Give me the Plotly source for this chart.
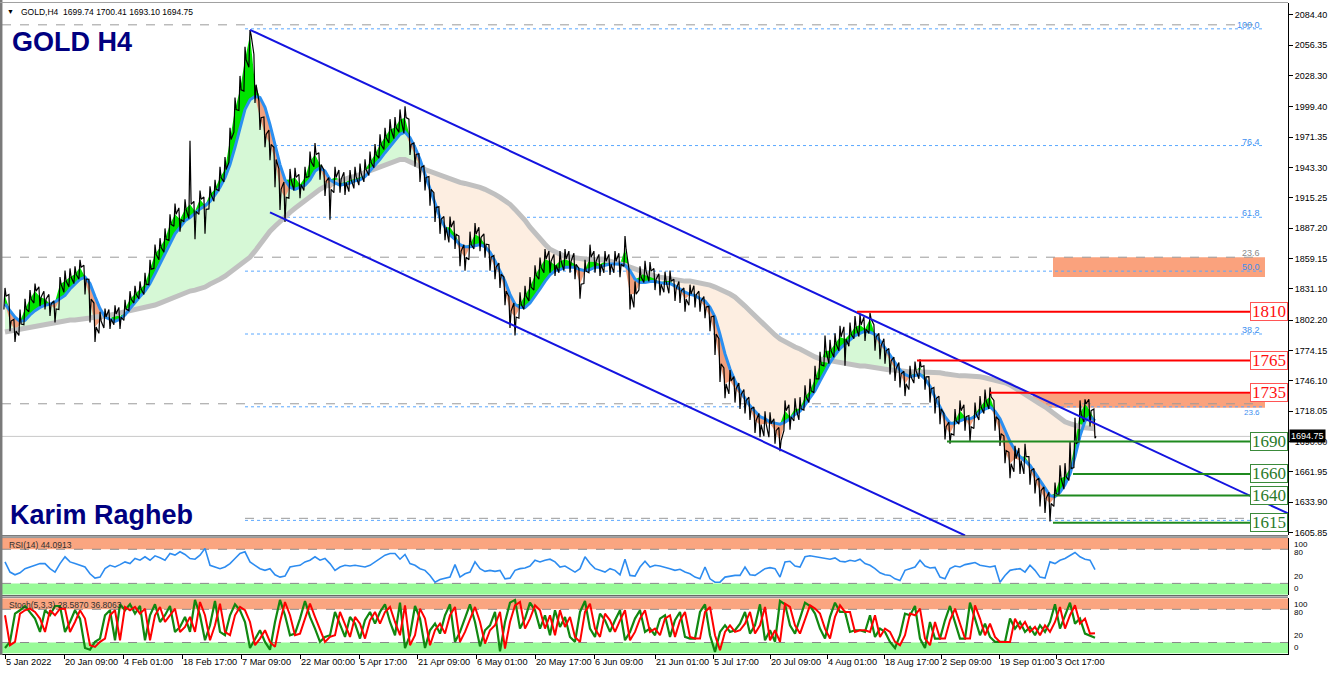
import numpy as np
import plotly.graph_objects as go

W, H = 1332, 677
FONT = "Liberation Sans, Arial, sans-serif"

# ---------------- data (sampled H4 series, one sample per ~6 bars) ----------------
close = [
    1824.5, 1801.4, 1792.2, 1798.6, 1812.5, 1821.7, 1829.1, 1823.5, 1821.7, 1817.1,
    1812.5, 1835.5, 1838.3, 1842.0, 1844.7, 1851.2, 1840.1, 1821.7, 1795.9, 1801.4,
    1805.1, 1803.3, 1807.9, 1805.1, 1812.5, 1821.7, 1826.3, 1830.9, 1835.5, 1849.3,
    1863.2, 1869.6, 1877.0, 1890.8, 1900.0, 1895.4, 1904.6, 1909.3, 1902.8, 1913.9,
    1904.6, 1918.5, 1923.1, 1934.1, 1941.5, 1969.2, 1996.8, 2015.2, 2042.9, 2065.9,
    2019.9, 1989.4, 1973.8, 1964.6, 1950.7, 1923.1, 1915.7, 1932.3, 1934.1, 1927.7,
    1934.1, 1948.9, 1955.3, 1946.1, 1930.5, 1923.1, 1934.1, 1932.3, 1929.5, 1932.3,
    1935.1, 1937.8, 1941.5, 1948.0, 1955.3, 1964.6, 1971.0, 1978.4, 1980.2, 1987.6,
    1989.4, 1964.6, 1955.3, 1943.4, 1934.1, 1923.1, 1906.5, 1895.4, 1888.1, 1888.1,
    1881.6, 1865.9, 1860.4, 1872.4, 1881.6, 1878.8, 1872.4, 1860.4, 1851.2, 1844.7,
    1829.1, 1810.6, 1805.1, 1817.1, 1824.5, 1832.8, 1843.8, 1851.2, 1858.6, 1856.7,
    1853.0, 1856.7, 1858.6, 1856.7, 1853.9, 1835.5, 1847.5, 1860.4, 1856.7, 1853.9,
    1856.7, 1853.9, 1856.7, 1853.9, 1867.8, 1826.3, 1826.3, 1842.0, 1847.5, 1847.5,
    1840.1, 1835.5, 1838.3, 1838.3, 1830.9, 1829.1, 1821.7, 1826.3, 1825.4, 1819.9,
    1814.3, 1805.1, 1789.4, 1761.8, 1743.3, 1746.1, 1738.7, 1733.2, 1727.7, 1720.3,
    1709.2, 1705.6, 1706.5, 1706.5, 1700.0, 1690.8, 1718.5, 1712.9, 1720.3, 1720.3,
    1731.4, 1736.9, 1748.0, 1760.9, 1773.8, 1773.8, 1780.2, 1786.7, 1784.8, 1789.4,
    1795.9, 1797.7, 1794.0, 1803.3, 1786.7, 1778.4, 1773.8, 1764.5, 1757.2, 1752.6,
    1743.3, 1749.8, 1755.3, 1759.0, 1749.8, 1738.7, 1729.5, 1720.3, 1703.7, 1697.3,
    1709.2, 1718.5, 1712.9, 1703.7, 1715.7, 1722.1, 1727.7, 1731.4, 1712.9, 1697.3,
    1681.6, 1669.6, 1674.2, 1672.4, 1676.1, 1663.2, 1653.9, 1644.7, 1637.3, 1632.7,
    1642.0, 1655.8, 1657.6, 1665.0, 1688.0, 1715.7, 1724.9, 1718.5, 1694.75,
]

high = [
    1832, 1826, 1803, 1812, 1822, 1830, 1836, 1833, 1829, 1826,
    1820, 1842, 1848, 1850, 1852, 1858, 1853, 1840, 1818, 1810,
    1813, 1812, 1816, 1814, 1821, 1829, 1834, 1838, 1846, 1858,
    1872, 1878, 1887, 1900, 1910, 1906, 1914, 1968, 1912, 1922,
    1916, 1926, 1932, 1944, 1953, 1980, 2008, 2028, 2055, 2070.4,
    2048, 2005, 1990, 1978, 1962, 1942, 1930, 1942, 1943, 1937,
    1944, 1958, 1966, 1957, 1941, 1934, 1944, 1941, 1939, 1941,
    1944, 1947, 1951, 1958, 1965, 1974, 1980, 1988, 1990, 1997,
    2000, 1988, 1966, 1956, 1945, 1935, 1920, 1907, 1898, 1898,
    1894, 1880, 1872, 1884, 1892, 1888, 1882, 1872, 1862, 1855,
    1842, 1824, 1818, 1828, 1834, 1842, 1853, 1860, 1868, 1866,
    1863, 1866, 1868, 1866, 1864, 1850, 1858, 1872, 1866, 1863,
    1866, 1863, 1866, 1864, 1880, 1850, 1838, 1852, 1857, 1856,
    1850, 1845, 1847, 1848, 1840, 1838, 1832, 1835, 1834, 1829,
    1824, 1815, 1806, 1785, 1758, 1756, 1750, 1744, 1738, 1731,
    1722, 1716, 1718, 1717, 1711, 1703, 1728, 1724, 1730, 1731,
    1742, 1748, 1760, 1773, 1788, 1784, 1790, 1797, 1796, 1800,
    1806, 1808, 1805, 1809, 1798, 1790, 1785, 1776, 1768, 1763,
    1755, 1760, 1764, 1766, 1760, 1750, 1740, 1732, 1716, 1708,
    1720, 1728, 1724, 1714, 1726, 1732, 1738, 1740, 1728, 1710,
    1695, 1680, 1686, 1684, 1688, 1676, 1665, 1656, 1648, 1643,
    1652, 1668, 1670, 1690, 1712, 1728, 1729, 1729, 1720,
]

low = [
    1812, 1792, 1782, 1788, 1798, 1810, 1818, 1815, 1812, 1806,
    1800, 1812, 1828, 1833, 1836, 1840, 1826, 1800, 1782, 1790,
    1795, 1794, 1798, 1794, 1802, 1811, 1818, 1822, 1826, 1835,
    1850, 1858, 1865, 1876, 1889, 1884, 1893, 1896, 1877, 1900,
    1882, 1905, 1912, 1922, 1930, 1948, 1976, 1996, 2014, 2036,
    2003, 1978, 1962, 1950, 1925, 1904, 1893, 1915, 1922, 1915,
    1922, 1935, 1944, 1932, 1917, 1895, 1920, 1920, 1918, 1921,
    1924, 1927, 1930, 1936, 1943, 1952, 1960, 1966, 1970, 1976,
    1975, 1955, 1944, 1930, 1922, 1908, 1893, 1882, 1876, 1874,
    1868, 1852, 1848, 1858, 1868, 1866, 1860, 1848, 1840, 1832,
    1816, 1795, 1788, 1804, 1812, 1820, 1830, 1840, 1846, 1846,
    1843, 1846, 1848, 1846, 1840, 1822, 1836, 1846, 1846, 1843,
    1846, 1844, 1846, 1842, 1852, 1812, 1814, 1830, 1837, 1838,
    1830, 1825, 1828, 1827, 1820, 1818, 1810, 1816, 1814, 1810,
    1804, 1792, 1770, 1745, 1730, 1734, 1726, 1720, 1716, 1710,
    1698, 1694, 1695, 1694, 1688, 1681, 1700, 1701, 1709, 1710,
    1719, 1726, 1735, 1748, 1760, 1762, 1768, 1774, 1760, 1778,
    1785, 1787, 1783, 1790, 1774, 1766, 1762, 1752, 1746, 1740,
    1732, 1738, 1744, 1748, 1738, 1726, 1716, 1706, 1692, 1688,
    1696, 1706, 1700, 1690, 1702, 1710, 1716, 1720, 1700, 1686,
    1670, 1656, 1662, 1660, 1660, 1650, 1642, 1630, 1624, 1616,
    1630, 1640, 1646, 1654, 1666, 1690, 1708, 1704, 1693.1,
]

ema_fast = [
    1817, 1811, 1805, 1801, 1802, 1807, 1811, 1814, 1816, 1817,
    1819, 1822, 1825, 1831, 1836, 1840, 1842, 1836, 1824, 1813,
    1805, 1803, 1801, 1803, 1807, 1813, 1819, 1824, 1829, 1836,
    1845, 1854, 1863, 1872, 1882, 1888, 1894, 1897, 1901, 1905,
    1908, 1912, 1918, 1925, 1934, 1946, 1962, 1980, 1997, 2006,
    2009, 2008, 1999, 1983, 1965, 1946, 1932, 1925, 1923, 1925,
    1927, 1932, 1940, 1943, 1940, 1932, 1929, 1927, 1928, 1929,
    1931, 1932, 1935, 1940, 1945, 1951, 1957, 1963, 1969, 1974,
    1976, 1971, 1962, 1951, 1937, 1923, 1909, 1897, 1888, 1881,
    1877, 1872, 1870, 1870, 1871, 1872, 1870, 1865, 1857, 1848,
    1838, 1826, 1817, 1814, 1814, 1818, 1824, 1831, 1838, 1844,
    1848, 1849, 1851, 1851, 1851, 1849, 1848, 1849, 1851, 1851,
    1853, 1854, 1854, 1854, 1853, 1848, 1840, 1837, 1837, 1838,
    1838, 1837, 1836, 1836, 1834, 1831, 1828, 1826, 1825, 1822,
    1820, 1814, 1805, 1789, 1771, 1757, 1746, 1737, 1730, 1723,
    1718, 1713, 1711, 1708, 1707, 1706, 1708, 1711, 1715, 1718,
    1724, 1730, 1737, 1746, 1755, 1763, 1770, 1776, 1780, 1784,
    1788, 1790, 1792, 1791, 1789, 1783, 1777, 1770, 1763, 1756,
    1752, 1750, 1751, 1752, 1748, 1741, 1731, 1722, 1713, 1707,
    1707, 1709, 1711, 1711, 1713, 1717, 1720, 1722, 1718, 1711,
    1700, 1690, 1682, 1676, 1672, 1668, 1661, 1654, 1647, 1640,
    1639, 1643, 1650, 1660, 1676, 1695, 1709, 1713, 1709,
]

sma_slow = [
    1791.3, 1792.2, 1793.1, 1794.0, 1795.0, 1795.9, 1796.8, 1797.7, 1798.6, 1798.6,
    1799.6, 1800.5, 1801.4, 1802.3, 1802.3, 1803.3, 1803.3, 1804.2, 1805.1, 1805.1,
    1806.0, 1806.9, 1807.9, 1808.8, 1809.7, 1810.6, 1811.5, 1812.5, 1813.4, 1814.3,
    1816.2, 1818.0, 1819.9, 1821.7, 1823.5, 1825.4, 1827.2, 1829.1, 1830.0, 1830.9,
    1832.8, 1835.5, 1837.4, 1840.1, 1842.9, 1846.6, 1850.3, 1853.9, 1856.7, 1860.4,
    1866.0, 1872.4, 1878.8, 1884.4, 1889.0, 1893.6, 1898.2, 1901.9, 1905.6, 1909.3,
    1912.9, 1916.6, 1920.3, 1923.1, 1925.8, 1927.7, 1929.5, 1930.5, 1932.3, 1934.1,
    1935.1, 1936.9, 1937.8, 1939.7, 1941.5, 1943.4, 1945.2, 1947.0, 1948.9, 1950.7,
    1950.7, 1948.9, 1947.0, 1944.3, 1941.5, 1939.7, 1937.8, 1936.9, 1934.1, 1932.3,
    1931.4, 1929.5, 1928.6, 1927.7, 1926.8, 1924.9, 1923.1, 1921.2, 1918.5, 1915.7,
    1912.9, 1909.3, 1904.6, 1900.0, 1894.5, 1888.1, 1882.5, 1877.0, 1872.4, 1867.8,
    1865.0, 1863.2, 1861.3, 1860.4, 1859.5, 1858.6, 1858.6, 1858.6, 1858.6, 1858.6,
    1857.7, 1856.7, 1855.8, 1854.9, 1853.0, 1851.2, 1849.3, 1847.5, 1845.7, 1844.7,
    1842.9, 1842.0, 1841.1, 1840.1, 1839.2, 1839.2, 1838.3, 1838.3, 1837.4, 1837.4,
    1836.4, 1834.6, 1832.8, 1830.9, 1829.1, 1826.3, 1823.5, 1819.9, 1815.2, 1810.6,
    1806.0, 1801.4, 1796.8, 1792.2, 1788.5, 1784.8, 1782.0, 1779.3, 1777.4, 1775.6,
    1772.8, 1770.1, 1768.2, 1766.4, 1765.5, 1764.5, 1763.6, 1762.7, 1762.7, 1761.8,
    1760.9, 1759.9, 1759.9, 1759.0, 1758.1, 1757.2, 1757.2, 1756.2, 1756.2, 1755.3,
    1755.3, 1754.4, 1754.4, 1754.4, 1754.4, 1753.5, 1753.5, 1753.5, 1752.6, 1751.6,
    1751.6, 1750.7, 1750.7, 1750.7, 1749.8, 1749.8, 1748.9, 1748.0, 1747.0, 1746.1,
    1744.3, 1742.4, 1739.7, 1736.9, 1734.1, 1731.4, 1728.6, 1724.9, 1722.1, 1718.5,
    1714.8, 1711.1, 1708.3, 1706.5, 1704.6, 1703.7, 1702.8, 1701.9, 1701.9,
]

rsi = [
    57.8, 39.9, 35.1, 38.7, 45.9, 48.8, 51.8, 54.8, 54.8, 45.9,
    39.9, 54.8, 66.7, 57.8, 54.8, 51.8, 48.8, 36.9, 29.2, 31.0,
    45.9, 51.8, 48.8, 53.0, 57.8, 54.8, 63.7, 60.7, 66.7, 60.7,
    68.5, 64.9, 60.7, 72.6, 69.7, 75.6, 70.9, 63.7, 62.5, 69.7,
    81.6, 51.8, 48.8, 45.9, 48.8, 54.8, 63.7, 72.6, 75.6, 57.8,
    51.8, 45.9, 42.9, 45.9, 35.1, 31.0, 32.8, 48.8, 50.6, 51.8,
    57.8, 60.7, 66.7, 60.7, 63.7, 54.8, 42.9, 48.8, 51.8, 50.6,
    51.8, 50.6, 48.8, 51.8,
    57.8, 63.7, 69.7, 72.6, 72.6, 62.5, 70.9, 54.8, 51.8, 45.9,
    42.9, 34.0, 22.1, 26.8, 29.2, 31.0, 53.0, 31.0, 36.9, 39.9,
    57.8, 45.9, 41.1, 42.9, 41.1, 42.9, 28.0, 29.2, 42.9, 45.9,
    47.0, 50.6, 60.7, 57.8, 60.7, 62.5, 57.8, 48.8, 50.6, 45.9,
    39.9, 45.9, 66.7, 54.8, 45.9, 42.9, 39.9, 45.9, 42.9, 35.1,
    62.5, 34.0, 32.8, 48.8, 58.9, 48.8, 51.8, 50.6, 48.8, 45.9,
    42.9, 44.7, 39.9, 36.9, 31.0, 28.0, 48.8, 28.0, 22.1, 22.1,
    31.0, 32.8, 34.0, 34.0,
    48.8, 35.1, 34.0, 39.9, 45.9, 47.6, 45.9, 31.0, 57.8, 58.9,
    50.6, 48.8, 66.7, 68.5, 66.7, 64.9, 63.7, 62.5, 64.9, 58.9,
    57.8, 60.7, 58.9, 62.5, 54.8, 51.8, 45.9, 38.7, 35.1, 34.0,
    28.0, 25.0, 42.9, 45.9, 48.8, 60.7, 50.6, 47.0, 48.2, 31.0,
    28.0, 45.9, 50.6, 48.8, 53.0, 54.8, 56.6, 51.8, 50.6, 48.8,
    50.6, 22.1, 34.0, 42.9, 44.7, 45.9, 39.9, 51.8, 42.9, 31.0,
    29.2, 57.8, 54.8, 60.7, 63.7, 69.7, 74.4, 66.7, 62.5, 60.7,
    44.1,
]

stoch_d = [
    69.2, 15.1, 21.1, 72.2, 78.2, 81.2, 75.2, 63.2, 39.1, 78.2,
    69.2, 81.2, 81.2, 39.1, 57.1, 78.2, 63.2, 15.1, 12.1, 21.1,
    27.1, 69.2, 78.2, 24.1, 84.2, 78.2, 84.2, 72.2, 81.2, 24.1,
    69.2, 84.2, 57.1, 69.2, 81.2, 39.1, 48.1, 66.2, 39.1, 93.2,
    69.2, 24.1, 51.1, 90.2, 39.1, 33.1, 69.2, 84.2, 78.2, 57.1,
    15.1, 27.1, 42.1, 21.1, 12.1, 57.1, 93.2, 69.2, 33.1, 36.1,
    63.2, 90.2, 66.2, 45.1, 21.1, 30.1, 33.1, 75.2, 54.1, 30.1,
    66.2, 54.1, 27.1, 60.1,
    75.2, 54.1, 75.2, 84.2, 57.1, 33.1, 87.2, 15.1, 33.1, 81.2,
    63.2, 15.1, 42.1, 54.1, 36.1, 69.2, 84.2, 21.1, 39.1, 63.2,
    84.2, 57.1, 18.1, 42.1, 51.1, 75.2, 9.1, 57.1, 87.2, 93.2,
    45.1, 63.2, 87.2, 78.2, 45.1, 69.2, 33.1, 78.2, 48.1, 66.2,
    30.1, 21.1, 75.2, 90.2, 45.1, 30.1, 72.2, 60.1, 39.1, 60.1,
    78.2, 24.1, 39.1, 63.2, 78.2, 39.1, 45.1, 33.1, 63.2, 69.2,
    30.1, 60.1, 75.2, 30.1, 27.1, 27.1, 75.2, 84.2, 33.1, 6.1,
    39.1, 51.1, 39.1, 42.1,
    54.1, 75.2, 36.1, 51.1, 84.2, 24.1, 42.1, 21.1, 90.2, 84.2,
    51.1, 36.1, 63.2, 87.2, 81.2, 72.2, 45.1, 27.1, 66.2, 87.2,
    75.2, 75.2, 39.1, 42.1, 42.1, 39.1, 69.2, 30.1, 45.1, 39.1,
    21.1, 15.1, 33.1, 72.2, 69.2, 81.2, 27.1, 15.1, 57.1, 27.1,
    27.1, 60.1, 81.2, 54.1, 27.1, 27.1, 87.2, 63.2, 33.1, 54.1,
    30.1, 21.1, 21.1, 21.1, 63.2, 45.1, 57.1, 39.1, 48.1, 33.1,
    51.1, 39.1, 57.1, 84.2, 45.1, 69.2, 87.2, 54.1, 63.2, 36.1,
    36.8,
]

stoch_k = [
    10.0, 21.1, 72.2, 78.2, 86.0, 75.2, 63.2, 39.1, 78.2, 69.2,
    86.0, 86.0, 39.1, 57.1, 78.2, 63.2, 10.0, 7.0, 21.1, 27.1,
    69.2, 78.2, 24.1, 89.0, 78.2, 89.0, 72.2, 86.0, 24.1, 69.2,
    89.0, 57.1, 69.2, 86.0, 39.1, 48.1, 66.2, 39.1, 97.0, 69.2,
    24.1, 51.1, 95.0, 39.1, 33.1, 69.2, 89.0, 78.2, 57.1, 10.0,
    27.1, 42.1, 21.1, 7.0, 57.1, 97.0, 69.2, 33.1, 36.1, 63.2,
    95.0, 66.2, 45.1, 21.1, 30.1, 33.1, 75.2, 54.1, 30.1, 66.2,
    54.1, 27.1, 60.1, 75.2,
    54.1, 75.2, 89.0, 57.1, 33.1, 92.0, 10.0, 33.1, 86.0, 63.2,
    10.0, 42.1, 54.1, 36.1, 69.2, 89.0, 21.1, 39.1, 63.2, 89.0,
    57.1, 13.0, 42.1, 51.1, 75.2, 4.0, 57.1, 92.0, 97.0, 45.1,
    63.2, 92.0, 78.2, 45.1, 69.2, 33.1, 78.2, 48.1, 66.2, 30.1,
    21.1, 75.2, 95.0, 45.1, 30.1, 72.2, 60.1, 39.1, 60.1, 78.2,
    24.1, 39.1, 63.2, 78.2, 39.1, 45.1, 33.1, 63.2, 69.2, 30.1,
    60.1, 75.2, 30.1, 27.1, 27.1, 75.2, 89.0, 33.1, 3.0, 39.1,
    51.1, 39.1, 42.1, 54.1,
    75.2, 36.1, 51.1, 89.0, 24.1, 42.1, 21.1, 95.0, 89.0, 51.1,
    36.1, 63.2, 92.0, 86.0, 72.2, 45.1, 27.1, 66.2, 92.0, 75.2,
    75.2, 39.1, 42.1, 42.1, 39.1, 69.2, 30.1, 45.1, 39.1, 21.1,
    10.0, 33.1, 72.2, 69.2, 86.0, 27.1, 10.0, 57.1, 27.1, 27.1,
    60.1, 86.0, 54.1, 27.1, 27.1, 92.0, 63.2, 33.1, 54.1, 30.1,
    21.1, 21.1, 21.1, 63.2, 45.1, 57.1, 39.1, 48.1, 33.1, 51.1,
    39.1, 57.1, 89.0, 45.1, 69.2, 92.0, 54.1, 63.2, 36.1, 33.0,
    28.6,
]

n = len(close)
for name, arr in [("high", high), ("low", low), ("ema", ema_fast), ("sma", sma_slow),
                  ("rsi", rsi), ("d", stoch_d), ("k", stoch_k)]:
    assert len(arr) == n, (name, len(arr), n)
bars = list(range(n))

tick_pos = [0, 11.8, 23.6, 35.4, 47.2, 59, 70.8, 82.4, 94.2, 106, 117.8, 130,
            141.6, 153, 164.4, 175.8, 187.2, 198.8, 210.2]
tick_text = ["5 Jan 2022", "20 Jan 09:00", "4 Feb 01:00", "18 Feb 17:00", "7 Mar 09:00",
             "22 Mar 00:00", "5 Apr 17:00", "21 Apr 09:00", "6 May 01:00", "20 May 17:00",
             "6 Jun 09:00", "21 Jun 01:00", "5 Jul 17:00", "20 Jul 09:00", "4 Aug 01:00",
             "18 Aug 17:00", "2 Sep 09:00", "19 Sep 01:00", "3 Oct 17:00"]
price_ticks = [2084.40, 2056.35, 2028.30, 1999.40, 1971.35, 1943.30, 1915.25, 1887.20,
               1859.15, 1831.10, 1802.20, 1774.15, 1746.10, 1718.05, 1690.00, 1661.95,
               1633.90, 1605.85]

resist_levels = [1810, 1765, 1735]
resist_start = [170.4, 182.4, 197.0]
support_levels = [1690, 1660, 1640, 1615]
support_start = [188.4, 213.6, 210.0, 209.6]
level_end = 249.0

fib_labels = ["100.0", "76.4", "61.8", "50.0", "38.2"]
fib_prices = [2071.5, 1963.6, 1897.3, 1847.5, 1789.4]
fib_low_label, fib_low_price = "23.6", 1722.1
fib_extra = [1722.1, 1617.1]
fib_x = [48.0, 251.4]
gray_levels = [2075.2, 1860.4, 1724.9, 1619.0]
gray_start = [-0.6, -0.6, -0.6, 48.0]

zones_x = [[209.6, 252.0], [205.6, 252.0]]
zones_y = [[1842.0, 1860.4], [1721.2, 1734.1]]

chan_up_x, chan_up_y = [49.0, 256.6], [2070.6, 1623.5]
chan_lo_x, chan_lo_y = [53.0, 192.0], [1901.9, 1603.2]

last_price = 1694.75
X_RANGE = [-0.6, 256.6]


def pxx(p):
    return p / W


def pxy(p):
    return 1 - p / H


fig = go.Figure()
x = np.array(bars)
c = np.array(close)
e = np.array(ema_fast, dtype=float)
s = np.array(sma_slow)


def fill_pair(base, other, col_up, col_dn):
    nolines = dict(width=0)
    fig.add_trace(go.Scatter(x=x, y=base, mode="lines", line=nolines, hoverinfo="skip"))
    fig.add_trace(go.Scatter(x=x, y=np.maximum(base, other), mode="lines", line=nolines,
                             fill="tonexty", fillcolor=col_up, hoverinfo="skip"))
    fig.add_trace(go.Scatter(x=x, y=np.minimum(base, other), mode="lines", line=nolines,
                             hoverinfo="skip"))
    fig.add_trace(go.Scatter(x=x, y=base, mode="lines", line=nolines,
                             fill="tonexty", fillcolor=col_dn, hoverinfo="skip"))


fill_pair(s, e, "rgb(214,248,214)", "rgb(253,238,225)")
fill_pair(e, c, "rgb(0,228,0)", "rgb(241,160,125)")

fig.add_trace(go.Scatter(x=x, y=s, mode="lines", line=dict(color="#c0c0c0", width=5)))
fig.add_trace(go.Scatter(x=x, y=e, mode="lines", line=dict(color="#2b8ff0", width=3)))

# price drawn as a dense zig-zag through each sample's low and high (candle look)
px_, py_ = [], []
for i in range(n):
    up = i == 0 or close[i] >= close[i - 1]
    first, second = (low[i], high[i]) if up else (high[i], low[i])
    px_ += [bars[i] - 0.22, bars[i] + 0.0, bars[i] + 0.22]
    py_ += [first, second, close[i]]
fig.add_trace(go.Scatter(x=px_, y=py_, mode="lines", line=dict(color="black", width=1.2)))

fig.add_trace(go.Scatter(x=chan_up_x, y=chan_up_y, mode="lines", line=dict(color="#1414e0", width=2)))
fig.add_trace(go.Scatter(x=chan_lo_x, y=chan_lo_y, mode="lines", line=dict(color="#1414e0", width=2)))

# oscillators
fig.add_trace(go.Scatter(x=x, y=rsi, mode="lines", line=dict(color="#2d8cf0", width=1.6),
                         xaxis="x", yaxis="y2"))
fig.add_trace(go.Scatter(x=x, y=stoch_k, mode="lines", line=dict(color="#118811", width=2.2),
                         xaxis="x", yaxis="y3"))
fig.add_trace(go.Scatter(x=x, y=stoch_d, mode="lines", line=dict(color="#ff0000", width=2),
                         xaxis="x", yaxis="y3"))

shapes = []
for zx, zy in zip(zones_x, zones_y):
    shapes.append(dict(type="rect", xref="x", yref="y", x0=zx[0], x1=zx[1], y0=zy[0], y1=zy[1],
                       fillcolor="rgb(250,162,125)", line=dict(width=0), layer="below"))
for lv, st in zip(gray_levels, gray_start):
    shapes.append(dict(type="line", xref="x", yref="y", x0=st, x1=fib_x[1], y0=lv, y1=lv,
                       line=dict(color="#9a9a9a", width=1, dash="dash"), layer="below"))
for lv in fib_prices + fib_extra:
    shapes.append(dict(type="line", xref="x", yref="y", x0=fib_x[0], x1=fib_x[1], y0=lv, y1=lv,
                       line=dict(color="#5aa8ff", width=1, dash="dot"), layer="below"))
shapes.append(dict(type="line", xref="x", yref="y", x0=X_RANGE[0], x1=X_RANGE[1], y0=last_price,
                   y1=last_price, line=dict(color="#c8c8c8", width=1), layer="below"))
for lv, st in zip(resist_levels, resist_start):
    shapes.append(dict(type="line", xref="x", yref="y", x0=st, x1=level_end, y0=lv, y1=lv,
                       line=dict(color="#ff0000", width=2)))
for lv, st in zip(support_levels, support_start):
    shapes.append(dict(type="line", xref="x", yref="y", x0=st, x1=level_end, y0=lv, y1=lv,
                       line=dict(color="#1f8a1f", width=2)))

for yr in ["y2", "y3"]:
    shapes.append(dict(type="rect", xref="x", yref=yr, x0=X_RANGE[0], x1=X_RANGE[1], y0=80, y1=100,
                       fillcolor="rgb(250,165,128)", line=dict(width=0), layer="below"))
    shapes.append(dict(type="rect", xref="x", yref=yr, x0=X_RANGE[0], x1=X_RANGE[1], y0=0, y1=20,
                       fillcolor="rgb(152,250,152)", line=dict(width=0), layer="below"))
    for lv in [80, 20]:
        shapes.append(dict(type="line", xref="x", yref=yr, x0=X_RANGE[0], x1=X_RANGE[1], y0=lv, y1=lv,
                           line=dict(color="#8a8a8a", width=1, dash="dash"), layer="below"))

for yy, col in [(537.5, "#202020"), (539.2, "#909090"), (597.6, "#202020"), (599.3, "#909090")]:
    shapes.append(dict(type="line", xref="paper", yref="paper", x0=0, x1=pxx(1288), y0=pxy(yy), y1=pxy(yy),
                       line=dict(color=col, width=1)))
shapes.append(dict(type="line", xref="paper", yref="paper", x0=pxx(1.2), x1=pxx(1.2), y0=pxy(0), y1=pxy(657),
                   line=dict(color="#7a7a7a", width=2.5)))
shapes.append(dict(type="line", xref="paper", yref="paper", x0=0, x1=pxx(1288), y0=pxy(2.5), y1=pxy(2.5),
                   line=dict(color="#a0a0a0", width=1)))

ann = []
ann.append(dict(text="\u25bc", x=pxx(5), y=pxy(12), xref="paper", yref="paper", xanchor="left",
                yanchor="middle", showarrow=False, font=dict(size=7, color="black", family=FONT)))
ann.append(dict(text="GOLD,H4  1699.74 1700.41 1693.10 1694.75", x=pxx(19), y=pxy(12), xref="paper",
                yref="paper", xanchor="left", yanchor="middle", showarrow=False,
                font=dict(size=8.5, color="black", family=FONT)))
ann.append(dict(text="<b>GOLD H4</b>", x=pxx(10), y=pxy(42), xref="paper", yref="paper",
                xanchor="left", yanchor="middle", showarrow=False,
                font=dict(size=27, color="#000080", family=FONT)))
ann.append(dict(text="<b>Karim Ragheb</b>", x=pxx(8), y=pxy(517), xref="paper", yref="paper",
                xanchor="left", yanchor="middle", showarrow=False,
                font=dict(size=27, color="#000080", family=FONT)))
ann.append(dict(text="RSI(14) 44.0913", x=pxx(7), y=pxy(547), xref="paper", yref="paper",
                xanchor="left", yanchor="middle", showarrow=False,
                font=dict(size=8.5, color="#303030", family=FONT)))
ann.append(dict(text="Stoch(5,3,3) 28.5870 36.8063", x=pxx(7), y=pxy(607), xref="paper", yref="paper",
                xanchor="left", yanchor="middle", showarrow=False,
                font=dict(size=8.5, color="#303030", family=FONT)))

for lab, lv in zip(fib_labels, fib_prices):
    ann.append(dict(text=lab, x=fib_x[1], y=lv, xref="x", yref="y", xanchor="right", yanchor="bottom",
                    showarrow=False, yshift=-3, font=dict(size=9, color="#3d8ff0", family=FONT)))
ann.append(dict(text=fib_low_label, x=fib_x[1], y=fib_low_price, xref="x", yref="y", xanchor="right",
                yanchor="top", showarrow=False, yshift=1, font=dict(size=8, color="#3d8ff0", family=FONT)))
ann.append(dict(text="23.6", x=fib_x[1], y=gray_levels[1], xref="x", yref="y", xanchor="right",
                yanchor="bottom", showarrow=False, yshift=-3, font=dict(size=9, color="#8a8a8a", family=FONT)))

for lv in resist_levels:
    ann.append(dict(text=str(lv), x=pxx(1287.5), y=lv, xref="paper", yref="y", xanchor="right",
                    yanchor="middle", showarrow=False, bgcolor="white", bordercolor="#ff5555",
                    borderwidth=1, borderpad=0, width=36, height=17,
                    font=dict(size=17, color="#ff1010", family="Liberation Serif, Times New Roman, serif")))
for lv in support_levels:
    ann.append(dict(text=str(lv), x=pxx(1287.5), y=lv, xref="paper", yref="y", xanchor="right",
                    yanchor="middle", showarrow=False, bgcolor="white", bordercolor="#3a8a3a",
                    borderwidth=1, borderpad=0, width=36, height=17,
                    font=dict(size=17, color="#2a7a2a", family="Liberation Serif, Times New Roman, serif")))

ann.append(dict(text="1694.75", x=pxx(1289), y=last_price, xref="paper", yref="y", xanchor="left",
                yanchor="middle", showarrow=False, bgcolor="black", borderpad=1,
                font=dict(size=9, color="white", family=FONT)))

for yr in ["y2", "y3"]:
    for val, ypos, anc, sh in [(100, 100, "top", 0), (80, 80, "top", 3),
                               (20, 20, "bottom", 0), (0, 20, "top", 1)]:
        ann.append(dict(text=str(val), x=pxx(1292), y=ypos, xref="paper", yref=yr, xanchor="left",
                        yanchor=anc, yshift=sh, showarrow=False,
                        font=dict(size=8, color="black", family=FONT)))

for tp, tt in zip(tick_pos, tick_text):
    ann.append(dict(text=tt, x=tp, y=pxy(663.5), xref="x", yref="paper", xanchor="left",
                    yanchor="middle", showarrow=False, xshift=-1,
                    font=dict(size=9.2, color="black", family=FONT)))

axis_common = dict(showgrid=False, zeroline=False, fixedrange=True)
fig.update_layout(
    width=W, height=H, margin=dict(l=0, r=0, t=0, b=0),
    paper_bgcolor="white", plot_bgcolor="white", showlegend=False, hovermode=False,
    xaxis=dict(domain=[pxx(2), pxx(1288)], range=X_RANGE, anchor="y3", showline=True,
               linecolor="black", linewidth=1, ticks="outside", ticklen=4, tickcolor="black",
               tickvals=tick_pos, showticklabels=False, **axis_common),
    yaxis=dict(domain=[pxy(537), pxy(3)], range=[1603.2, 2095.4], side="right", anchor="x",
               showline=True, linecolor="black", linewidth=1, ticks="outside", ticklen=4,
               tickcolor="black", tickvals=price_ticks, ticktext=[f"{v:.2f}" for v in price_ticks],
               tickfont=dict(size=9, color="black", family=FONT), **axis_common),
    yaxis2=dict(domain=[pxy(596.5), pxy(539.5)], range=[0, 100], side="right", anchor="x",
                showline=True, linecolor="black", linewidth=1, showticklabels=False, **axis_common),
    yaxis3=dict(domain=[pxy(655.5), pxy(600)], range=[0, 100], side="right", anchor="x",
                showline=True, linecolor="black", linewidth=1, showticklabels=False, **axis_common),
    shapes=shapes, annotations=ann,
)

fig.write_html("out.html", config={"displayModeBar": False})
